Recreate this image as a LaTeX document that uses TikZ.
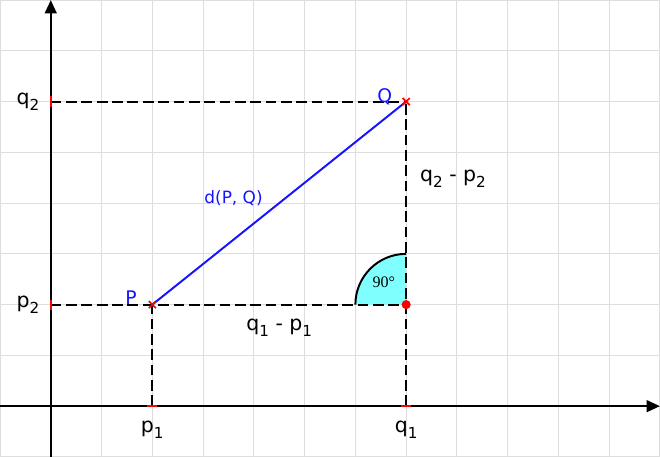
\documentclass[tikz,border=0pt]{standalone}
\usepackage{fontspec}
\setmainfont{DejaVu Sans}
\newfontfamily\anglefont{Liberation Serif}
\usetikzlibrary{arrows.meta}
\definecolor{anglefill}{RGB}{128,255,255}
\definecolor{distblue}{RGB}{20,20,255}
\newcommand{\lowidx}[1]{\raisebox{-0.55ex}{\fontsize{8.5}{9}\selectfont #1}}

\begin{document}
\begin{tikzpicture}[scale=1]
    \tikzset{gridline/.style={draw=black!13, line width=0.6pt},
             axis/.style={line width=1.4pt, -{Triangle[length=7.5pt,width=6.5pt]}},
             helper/.style={line width=1.1pt, dash pattern=on 6pt off 2.6pt},
             distline/.style={distblue, line width=1.1pt},
             tick/.style={red, line width=1.4pt},
             lbl/.style={font=\fontsize{11.5}{13}\selectfont},
             bluelbl/.style={distblue, font=\fontsize{9.5}{11}\selectfont}}
    \useasboundingbox (-1,-1) rectangle (12,8);
    \draw[gridline] (-1,-1) grid (12,8);
    % points
    \coordinate (O) at (0,0);
    \coordinate (P) at (2,2);
    \coordinate (Q) at (7,6);
    \coordinate (R) at (7,2);
    \coordinate (Pone) at (2,0);
    \coordinate (Qone) at (7,0);
    \coordinate (Ptwo) at (0,2);
    \coordinate (Qtwo) at (0,6);
    % right angle
    \fill[anglefill] (R) -- ++(180:1) arc (180:90:1) -- cycle;
    \draw[line width=1.1pt] (R) ++(180:1) arc (180:90:1);
    % helper lines
    \draw[helper] (Qtwo) -- (Q);
    \draw[helper] (Ptwo) -- (R);
    \draw[helper] (Pone) -- (P);
    \draw[helper] (Qone) -- (Q);
    \draw[distline] (P) -- (Q);
    % axes
    \draw[axis] (-1,0) -- (12,0);
    \draw[axis] (0,-1) -- (0,8);
    \draw[tick] (Pone) ++(-0.1,0) -- ++(0.2,0);
    \draw[tick] (Qone) ++(-0.1,0) -- ++(0.2,0);
    \draw[tick] (Ptwo) ++(0,-0.1) -- ++(0,0.2);
    \draw[tick] (Qtwo) ++(0,-0.1) -- ++(0,0.2);
    \draw[tick, line width=0.9pt] (P) ++(-0.07,-0.07) -- ++(0.14,0.14) (P) ++(-0.07,0.07) -- ++(0.14,-0.14);
    \draw[tick, line width=0.9pt] (Q) ++(-0.07,-0.07) -- ++(0.14,0.14) (Q) ++(-0.07,0.07) -- ++(0.14,-0.14);
    \fill[red] (R) circle (0.09);
    % labels
    \node[lbl, anchor=east] (q2) at (-0.1,6) {q\lowidx{2}};
    \node[lbl, anchor=east] (p2) at (-0.1,2) {p\lowidx{2}};
    \node[lbl] (p1) at (2,-0.47) {p\lowidx{1}};
    \node[lbl] (q1) at (7,-0.47) {q\lowidx{1}};
    \node[lbl] (dx) at (4.5,1.55) {q\lowidx{1} - p\lowidx{1}};
    \node[lbl, anchor=west] (dy) at (7.15,4.48) {q\lowidx{2} - p\lowidx{2}};
    \node[bluelbl] (d) at (3.6,4.1) {d(P, Q)};
    \node[bluelbl, font=\fontsize{10.5}{12}\selectfont] (Plbl) at (1.58,2.13) {P};
    \node[bluelbl, font=\fontsize{10.5}{12}\selectfont] (Qlbl) at (6.58,6.09) {Q};
    \node[font=\anglefont\fontsize{9}{10}\selectfont] (ang) at (6.56,2.44) {90°};
\end{tikzpicture}
\end{document}
